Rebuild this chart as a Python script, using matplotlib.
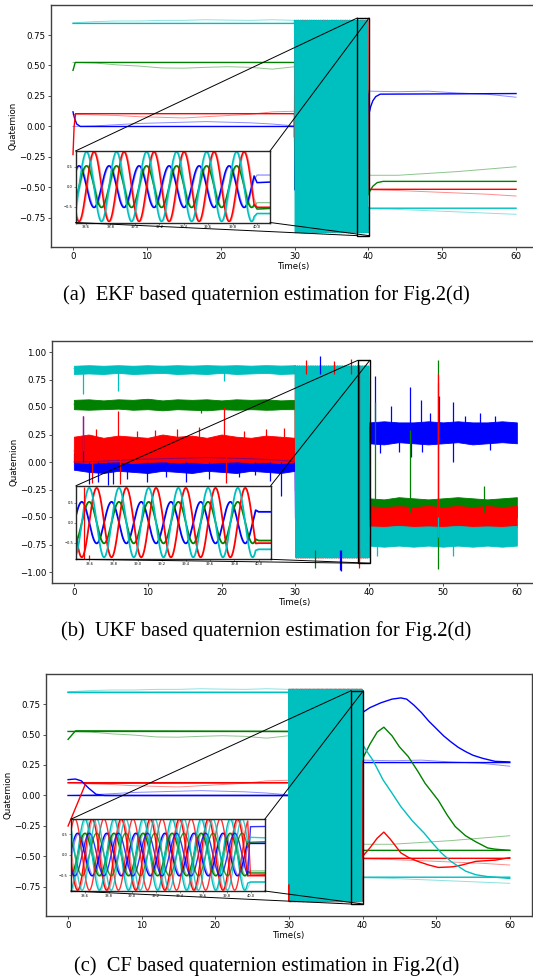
import numpy as np
import matplotlib
matplotlib.use("Agg")
import matplotlib.pyplot as plt
from matplotlib.patches import Rectangle, ConnectionPatch

W, H = 533, 977

# ---------------- data ----------------
components = ["b", "g", "r", "c"]          # drawing order, cyan on top
x_ticks = [0, 10, 20, 30, 40, 50, 60]
y_ticks_ac = [-0.75, -0.5, -0.25, 0.0, 0.25, 0.5, 0.75]
y_ticks_b = [-1.0, -0.75, -0.5, -0.25, 0.0, 0.25, 0.5, 0.75, 1.0]
inset_xticks = [38.6, 38.8, 39.0, 39.2, 39.4, 39.6, 39.8, 40.0]
inset_yticks = [-0.5, 0.0, 0.5]

captions = ["(a)  EKF based quaternion estimation for Fig.2(d)",
            "(b)  UKF based quaternion estimation for Fig.2(d)",
            "(c)  CF based quaternion estimation in Fig.2(d)"]

# reference quaternion before / after the rotation phase
level_before = {"c": 0.845, "g": 0.525, "r": 0.105, "b": 0.0}
level_after = {"b": 0.27, "g": -0.45, "r": -0.515, "c": -0.67}

# rotation phase (30 s - 40 s): amplitude / phase / period
osc_amp = {"c": 0.87, "r": 0.87, "b": 0.52, "g": 0.52}
osc_phase_deg = {"c": 0, "r": -90, "b": 90, "g": 0}
osc_period = 0.2457
osc_start, osc_stop, osc_dt = 30.0, 39.98, 0.004

# thin (light) drifting lines
thin_t_before = [0, 3, 6, 9, 12, 15, 18, 21, 24, 27, 30]
thin_before = {
    "c": [0.85, 0.86, 0.865, 0.865, 0.87, 0.87, 0.875, 0.872, 0.87, 0.875, 0.87],
    "g": [0.525, 0.52, 0.505, 0.495, 0.48, 0.478, 0.485, 0.49, 0.485, 0.47, 0.49],
    "r": [0.10, 0.095, 0.09, 0.08, 0.075, 0.07, 0.08, 0.09, 0.10, 0.12, 0.125],
    "b": [0.0, 0.005, 0.015, 0.025, 0.03, 0.035, 0.04, 0.035, 0.03, 0.02, 0.005],
}
thin_t_after = [40, 44, 48, 52, 56, 60]
thin_after = {
    "b": [0.29, 0.285, 0.29, 0.275, 0.265, 0.24],
    "g": [-0.40, -0.40, -0.385, -0.37, -0.35, -0.33],
    "r": [-0.52, -0.525, -0.535, -0.545, -0.555, -0.57],
    "c": [-0.675, -0.68, -0.69, -0.70, -0.71, -0.72],
}

# EKF estimate
ekf_start_t = {"b": [0, 0.2, 0.5, 1.0, 30], "g": [0, 0.3, 30],
               "r": [0, 0.15, 0.35, 30], "c": [0, 30]}
ekf_start_v = {"b": [0.12, 0.07, 0.02, 0.0, 0.0], "g": [0.46, 0.525, 0.525],
               "r": [-0.23, 0.0, 0.105, 0.105], "c": [0.845, 0.845]}
ekf_end_t = {"b": [40.0, 40.15, 40.3, 40.6, 41.0, 41.6, 60],
             "g": [40.0, 40.2, 40.6, 41.2, 42.0, 60],
             "r": [40.0, 60], "c": [40.0, 60]}
ekf_end_v = {"b": [0.1, 0.12, 0.16, 0.21, 0.245, 0.265, 0.27],
             "g": [-0.56, -0.53, -0.49, -0.46, -0.45, -0.45],
             "r": [-0.515, -0.515], "c": [-0.67, -0.67]}

# CF estimate
cf_start_t = {"b": [0, 1.0, 1.8, 2.8, 3.8, 5.0, 30], "g": [0, 1.0, 30],
              "r": [0, 2.4, 30], "c": [0, 30]}
cf_start_v = {"b": [0.13, 0.135, 0.12, 0.06, 0.01, 0.0, 0.0], "g": [0.46, 0.53, 0.525],
              "r": [-0.25, 0.10, 0.105], "c": [0.845, 0.845]}
cf_end_t = {
    "b": [40.0, 41, 42.5, 44, 45.2, 46, 47, 48, 49, 50, 51, 52, 53, 54, 55, 56.3, 58, 60],
    "g": [40.0, 41, 42, 42.9, 44, 45, 46.2, 47.5, 48.5, 50.3, 51.5, 52.6, 54, 55.4, 57, 58, 60],
    "r": [40.0, 41, 42, 42.9, 43.8, 45.2, 46.3, 47.5, 49, 50.3, 52.2, 53.5, 55.4, 58, 60],
    "c": [40.0, 40.5, 41.4, 42.8, 44, 45.2, 46.8, 48.4, 49.5, 50.7, 52, 53, 54, 55.4, 57, 60],
}
cf_end_v = {
    "b": [0.68, 0.72, 0.76, 0.79, 0.80, 0.79, 0.74, 0.68, 0.61, 0.55, 0.49, 0.44, 0.395,
          0.36, 0.33, 0.305, 0.28, 0.275],
    "g": [0.30, 0.42, 0.52, 0.56, 0.49, 0.40, 0.32, 0.20, 0.10, -0.04, -0.16, -0.255, -0.33,
          -0.38, -0.43, -0.44, -0.45],
    "r": [-0.50, -0.43, -0.35, -0.30, -0.36, -0.47, -0.51, -0.54, -0.57, -0.59, -0.585,
          -0.57, -0.54, -0.53, -0.51],
    "c": [0.42, 0.37, 0.29, 0.127, 0.02, -0.09, -0.21, -0.31, -0.39, -0.47, -0.54, -0.58,
          -0.62, -0.65, -0.665, -0.68],
}

# UKF noisy bands (lower / upper envelopes)
ukf_t_before = [0, 2, 4, 6, 8, 10, 12, 14, 16, 18, 20, 22, 24, 26, 28, 30]
ukf_lo_before = {
    "b": [-0.07, -0.09, -0.10, -0.08, -0.09, -0.10, -0.08, -0.09, -0.10, -0.08, -0.09,
          -0.10, -0.08, -0.09, -0.10, -0.08],
    "g": [0.48, 0.475, 0.48, 0.485, 0.475, 0.48, 0.47, 0.48, 0.475, 0.47, 0.48, 0.475,
          0.48, 0.475, 0.48, 0.48],
    "r": [0.0, -0.01, 0.0, 0.005, -0.01, 0.0, 0.005, -0.005, 0.0, -0.01, 0.0, 0.005,
          -0.005, 0.0, -0.01, 0.0],
    "c": [0.80, 0.805, 0.80, 0.81, 0.80, 0.805, 0.81, 0.80, 0.805, 0.80, 0.81, 0.80,
          0.805, 0.81, 0.80, 0.805],
}
ukf_hi_before = {
    "b": [0.08, 0.08, 0.08, 0.08, 0.08, 0.08, 0.08, 0.08, 0.08, 0.08, 0.08, 0.08, 0.08,
          0.08, 0.08, 0.08],
    "g": [0.565, 0.57, 0.56, 0.57, 0.565, 0.575, 0.56, 0.57, 0.565, 0.57, 0.56, 0.57,
          0.565, 0.57, 0.56, 0.565],
    "r": [0.23, 0.25, 0.22, 0.24, 0.23, 0.22, 0.25, 0.23, 0.24, 0.22, 0.25, 0.23, 0.22,
          0.24, 0.23, 0.22],
    "c": [0.875, 0.88, 0.875, 0.88, 0.875, 0.88, 0.875, 0.88, 0.875, 0.88, 0.875, 0.88,
          0.875, 0.88, 0.875, 0.88],
}
ukf_t_after = [40, 42, 44, 46, 48, 50, 52, 54, 56, 58, 60]
ukf_lo_after = {
    "b": [0.17, 0.16, 0.18, 0.17, 0.16, 0.17, 0.18, 0.16, 0.17, 0.18, 0.17],
    "g": [-0.50, -0.50, -0.49, -0.50, -0.50, -0.49, -0.50, -0.50, -0.49, -0.50, -0.50],
    "r": [-0.59, -0.60, -0.59, -0.59, -0.60, -0.59, -0.60, -0.59, -0.59, -0.60, -0.59],
    "c": [-0.76, -0.77, -0.76, -0.77, -0.76, -0.77, -0.76, -0.77, -0.76, -0.77, -0.76],
}
ukf_hi_after = {
    "b": [0.36, 0.37, 0.36, 0.36, 0.37, 0.36, 0.37, 0.36, 0.36, 0.37, 0.36],
    "g": [-0.33, -0.34, -0.32, -0.33, -0.34, -0.33, -0.32, -0.33, -0.34, -0.33, -0.32],
    "r": [-0.40, -0.41, -0.40, -0.41, -0.40, -0.41, -0.40, -0.41, -0.40, -0.41, -0.40],
    "c": [-0.585, -0.59, -0.58, -0.59, -0.585, -0.59, -0.58, -0.59, -0.585, -0.59, -0.58],
}
# UKF outlier spikes: time, from, to, colour
spike_t = [1.2, 1.2, 1.2, 6.0, 6.0, 20.4, 20.4, 17.2,
           2.0, 3.3, 4.6, 5.3, 7.2, 9.9, 12.5, 15.2, 18.3, 22.4, 24.5, 26.5, 28.0,
           3.0, 8.5, 11.0, 14.0, 17.0, 23.0, 26.0, 28.5, 2.5, 6.2, 20.6,
           31.5, 33.3, 35.3, 36.2, 37.5, 32.6, 36.1, 38.6, 38.56,
           40.8, 42.9, 45.5, 47.0, 48.3, 49.4, 51.3, 53.0, 55.0, 57.0,
           44.0, 45.7, 47.2, 51.35, 56.3, 41.5,
           49.3, 49.3, 49.3, 49.35, 45.5, 40.8, 51.3, 41.0, 55.5]
spike_from = [0.0, 0.1, 0.84, 0.1, 0.84, 0.1, 0.84, 0.5,
              0.0, 0.0, 0.0, 0.0, 0.0, 0.0, 0.0, 0.0, 0.0, 0.0, 0.0, 0.0, 0.0,
              0.1, 0.1, 0.1, 0.1, 0.1, 0.1, 0.1, 0.1, 0.1, 0.1, 0.1,
              0.8, 0.8, 0.8, -0.8, 0.8, -0.8, -0.8, -0.8, -0.9,
              0.27, 0.27, 0.27, 0.27, 0.27, 0.27, 0.27, 0.27, 0.27, 0.27,
              0.27, 0.27, 0.27, 0.27, 0.27, 0.27,
              -0.45, -0.45, -0.68, -0.5, -0.45, -0.45, -0.68, -0.68, -0.45]
spike_to = [0.42, 0.42, 0.62, 0.46, 0.65, 0.50, 0.74, 0.45,
            -0.20, -0.18, -0.21, -0.20, -0.15, -0.18, -0.14, -0.18, -0.15, -0.14,
            -0.12, -0.17, -0.31,
            0.30, 0.28, 0.29, 0.30, 0.32, 0.28, 0.30, 0.31, -0.19, -0.20, -0.19,
            0.93, 0.96, 0.92, -0.99, 0.94, -0.96, -0.98, -0.96, 0.88,
            0.78, 0.51, 0.68, 0.56, 0.45, 0.60, 0.55, 0.42, 0.45, 0.42,
            0.09, 0.05, 0.09, 0.0, 0.11, 0.08,
            0.93, -0.97, 0.72, 0.80, 0.29, 0.55, -0.85, -0.85, -0.22]
spike_color = ["b", "r", "c", "r", "c", "r", "c", "g",
               "b", "b", "b", "b", "b", "b", "b", "b", "b", "b", "b", "b", "b",
               "r", "r", "r", "r", "r", "r", "r", "r", "r", "r", "r",
               "r", "b", "r", "b", "r", "g", "b", "r", "r",
               "b", "b", "b", "b", "b", "b", "b", "b", "b", "b",
               "b", "b", "b", "b", "b", "b",
               "g", "g", "c", "r", "g", "g", "c", "c", "g"]

# ---------------- helpers ----------------
def wave(comp, t, lag):
    ph = 2 * np.pi * (t - osc_start - lag) / osc_period + np.deg2rad(osc_phase_deg[comp])
    return osc_amp[comp] * np.cos(ph)


def series(pre_t, pre_v, comp, lag, post_t, post_v):
    t_osc = np.arange(osc_start, osc_stop, osc_dt)
    v_osc = wave(comp, t_osc, lag)
    t = np.concatenate([np.asarray(pre_t, float), t_osc, np.asarray(post_t, float)])
    v = np.concatenate([np.asarray(pre_v, float), v_osc, np.asarray(post_v, float)])
    return t, v


def rect(l, t, r, b):
    return [l / W, 1 - b / H, (r - l) / W, (b - t) / H]


FS = 6.25
fig = plt.figure(figsize=(W / 100, H / 100), dpi=100)


def style_main(ax, ylim, yticks):
    ax.set_xlim(-3, 63)
    ax.set_ylim(*ylim)
    ax.set_xticks(x_ticks)
    ax.set_yticks(yticks)
    ax.tick_params(labelsize=FS, length=2.5, width=0.6, pad=1.2, color="0.2")
    for s in ax.spines.values():
        s.set_linewidth(1.0)
        s.set_color("0.25")
    ax.set_xlabel("Time(s)", fontsize=FS, labelpad=0.3)
    ax.set_ylabel("Quaternion", fontsize=FS, labelpad=1.5)


def make_inset(px, xlim, ylim):
    axi = fig.add_axes(rect(*px))
    axi.set_xlim(*xlim)
    axi.set_ylim(*ylim)
    axi.set_xticks(inset_xticks)
    axi.set_yticks(inset_yticks)
    axi.tick_params(labelsize=2.6, length=1.2, width=0.4, pad=0.8, color="0.2")
    for s in axi.spines.values():
        s.set_linewidth(1.0)
        s.set_color("0.15")
    return axi


def connect(ax, axi):
    x0, x1 = axi.get_xlim()
    y0, y1 = axi.get_ylim()
    ax.add_patch(Rectangle((x0, y0), x1 - x0, y1 - y0, fill=False, ec="k",
                           lw=1.0, zorder=6))
    for xa in (0, 1):
        for ya in (0, 1):
            cp = ConnectionPatch(xyA=(xa, ya), coordsA=axi.transAxes,
                                 xyB=(x0 + xa * (x1 - x0), y0 + ya * (y1 - y0)),
                                 coordsB=ax.transData, color="k", lw=0.7)
            fig.add_artist(cp)


def draw_thin(ax, lw=0.7):
    for k in components:
        t, v = series(thin_t_before, thin_before[k], k, 0.012, thin_t_after, thin_after[k])
        ax.plot(t, v, color=k, lw=lw, alpha=0.45)


# ---------------- (a) EKF ----------------
axA = fig.add_axes(rect(50.85, 5, 538.2, 247))
insA = make_inset((75.5, 151, 270, 222.5), (38.514, 40.106), (-0.895, 0.89))
for ax, lw in ((axA, 1.0), (insA, 1.1)):
    draw_thin(ax, lw=0.7 if ax is axA else 0.9)
    for k in components:
        t, v = series(ekf_start_t[k], ekf_start_v[k], k, 0.004, ekf_end_t[k], ekf_end_v[k])
        ax.plot(t, v, color=k, lw=lw)
style_main(axA, (-0.988, 0.996), y_ticks_ac)
connect(axA, insA)

# ---------------- (b) UKF ----------------
axB = fig.add_axes(rect(51.7, 341, 539, 583))
insB = make_inset((76, 485.7, 270.7, 559.3), (38.49, 40.1), (-0.92, 0.925))
draw_thin(axB)
for k in components:
    axB.fill_between(ukf_t_before, ukf_lo_before[k], ukf_hi_before[k], color=k, lw=0.6,
                     edgecolor=k)
    axB.fill_between(ukf_t_after, ukf_lo_after[k], ukf_hi_after[k], color=k, lw=0.6,
                     edgecolor=k)
for ax, lw in ((axB, 1.2), (insB, 1.3)):
    for k in components:
        t, v = series([30], [level_before[k]], k, 0.0, [40.0, 40.2],
                      [level_after[k], level_after[k]])
        ax.plot(t, v, color=k, lw=lw)
for ax in (axB, insB):
    ax.vlines(spike_t, spike_from, spike_to, colors=spike_color, lw=0.9)
style_main(axB, (-1.1, 1.1), y_ticks_b)
connect(axB, insB)

# ---------------- (c) CF ----------------
axC = fig.add_axes(rect(46, 674, 531.8, 916))
insC = make_inset((70.7, 819.3, 264.7, 891), (38.48, 40.12), (-0.89, 0.86))
for ax, lw in ((axC, 1.0), (insC, 1.0)):
    draw_thin(ax, lw=0.7 if ax is axC else 0.9)
    for k in components:
        t, v = series([0, 30], [level_before[k], level_before[k]], k, 0.0, [40.0, 60],
                      [level_after[k], level_after[k]])
        ax.plot(t, v, color=k, lw=lw)
    for k in components:
        t, v = series(cf_start_t[k], cf_start_v[k], k, 0.1, cf_end_t[k], cf_end_v[k])
        ax.plot(t, v, color=k, lw=lw, alpha=0.8 if ax is insC else 1.0)
style_main(axC, (-0.988, 0.996), y_ticks_ac)
connect(axC, insC)

# ---------------- captions ----------------
for cap, yc in zip(captions, (295, 631, 966)):
    fig.text(0.5, 1 - yc / H, cap, ha="center", va="center",
             family="Liberation Serif", fontsize=14.8)

fig.savefig("out.png", dpi=100)
